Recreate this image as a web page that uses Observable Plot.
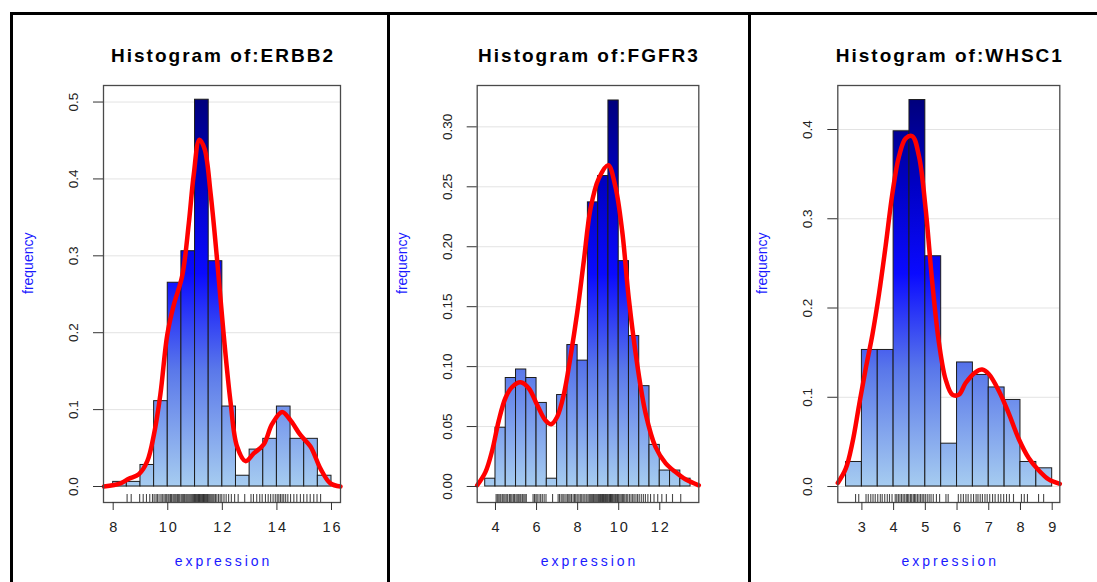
<!DOCTYPE html>
<html>
<head>
<meta charset="utf-8">
<script src="https://cdn.jsdelivr.net/npm/d3@7"></script>
<script src="https://cdn.jsdelivr.net/npm/@observablehq/plot@0.6"></script>
<style>
  html, body { margin: 0; padding: 0; background: #fff; }
  body { width: 1097px; height: 582px; overflow: hidden; position: relative; font-family: "Liberation Sans", Arial, sans-serif; }
  .panel { position: absolute; top: 0; }
  .bl { position: absolute; background: #000; z-index: 5; }
</style>
</head>
<body>
<div class="bl" style="left:10px;top:12px;width:1087px;height:3px"></div>
<div class="bl" style="left:10px;top:12px;width:3px;height:570px"></div>
<div class="bl" style="left:387px;top:12px;width:3px;height:570px"></div>
<div class="bl" style="left:748px;top:12px;width:3px;height:570px"></div>
<script>
// ---------------- ERBB2 ----------------
const erbb2Breaks = [8.0, 8.5, 9.0, 9.5, 10.0, 10.5, 11.0, 11.5, 12.0, 12.5, 13.0, 13.5, 14.0, 14.5, 15.0, 15.5, 16.0];
const erbb2Freq = [0.006, 0.006, 0.028, 0.111, 0.265, 0.306, 0.503, 0.293, 0.104, 0.014, 0.048, 0.062, 0.104, 0.062, 0.062, 0.014];
const erbb2DensX = [7.66, 8.27, 8.57, 8.94, 9.25, 9.49, 9.73, 9.98, 10.22, 10.53, 10.77, 10.95, 11.16, 11.35, 11.57, 11.81, 12.05, 12.3, 12.54, 12.85, 13.15, 13.52, 13.82, 14.19, 14.5, 14.86, 15.23, 15.6, 15.96, 16.33];
const erbb2DensY = [0.0, 0.004, 0.01, 0.016, 0.033, 0.067, 0.12, 0.197, 0.236, 0.274, 0.342, 0.405, 0.451, 0.439, 0.381, 0.294, 0.197, 0.11, 0.052, 0.033, 0.043, 0.055, 0.081, 0.097, 0.086, 0.067, 0.052, 0.023, 0.004, 0.0];
const erbb2Rug = [8.51, 8.66, 8.97, 9.1, 9.22, 9.34, 9.44, 9.5, 9.57, 9.62, 9.68, 9.75, 9.8, 9.86, 9.91, 9.96, 10.01, 10.05, 10.1, 10.14, 10.19, 10.23, 10.27, 10.31, 10.36, 10.4, 10.44, 10.49, 10.53, 10.57, 10.61, 10.66, 10.7, 10.74, 10.78, 10.82, 10.86, 10.9, 10.94, 10.98, 11.01, 11.04, 11.07, 11.1, 11.13, 11.16, 11.19, 11.22, 11.25, 11.28, 11.31, 11.34, 11.37, 11.4, 11.43, 11.46, 11.5, 11.54, 11.58, 11.62, 11.66, 11.7, 11.75, 11.8, 11.86, 11.92, 11.98, 12.06, 12.14, 12.23, 12.33, 12.45, 12.58, 12.82, 13.05, 13.14, 13.26, 13.37, 13.46, 13.58, 13.68, 13.77, 13.86, 13.94, 14.01, 14.07, 14.13, 14.19, 14.25, 14.32, 14.4, 14.5, 14.62, 14.73, 14.86, 14.98, 15.1, 15.22, 15.35, 15.47, 15.6];
const erbb2XTicks = [8, 10, 12, 14, 16];
const erbb2YTicks = [0, 0.1, 0.2, 0.3, 0.4, 0.5];
const erbb2YLabels = ["0.0", "0.1", "0.2", "0.3", "0.4", "0.5"];

// ---------------- FGFR3 ----------------
const fgfr3Breaks = [3.5, 4.0, 4.5, 5.0, 5.5, 6.0, 6.5, 7.0, 7.5, 8.0, 8.5, 9.0, 9.5, 10.0, 10.5, 11.0, 11.5, 12.0, 12.5, 13.0, 13.5];
const fgfr3Freq = [0.0065, 0.049, 0.0905, 0.0976, 0.0905, 0.0697, 0.0065, 0.0763, 0.118, 0.105, 0.237, 0.259, 0.322, 0.188, 0.1255, 0.0837, 0.0347, 0.0133, 0.0133, 0.0065];
const fgfr3DensX = [3.11, 3.51, 3.84, 4.16, 4.49, 4.81, 5.22, 5.62, 6.03, 6.44, 6.71, 7.0, 7.33, 7.65, 7.98, 8.3, 8.63, 9.03, 9.49, 9.84, 10.17, 10.49, 10.9, 11.31, 11.79, 12.28, 12.77, 13.25, 13.9];
const fgfr3DensY = [0.001, 0.012, 0.03, 0.055, 0.074, 0.083, 0.087, 0.082, 0.068, 0.055, 0.052, 0.058, 0.077, 0.108, 0.145, 0.188, 0.232, 0.257, 0.268, 0.25, 0.213, 0.157, 0.102, 0.061, 0.033, 0.0195, 0.012, 0.006, 0.001];
const fgfr3Rug = [4.03, 4.09, 4.16, 4.22, 4.27, 4.35, 4.41, 4.47, 4.55, 4.6, 4.68, 4.74, 4.8, 4.87, 4.93, 5.0, 5.06, 5.13, 5.19, 5.24, 5.31, 5.38, 5.44, 5.5, 5.83, 5.9, 5.97, 6.03, 6.12, 6.2, 6.28, 6.37, 6.46, 6.78, 7.05, 7.12, 7.2, 7.28, 7.34, 7.43, 7.5, 7.57, 7.63, 7.7, 7.78, 7.85, 7.91, 7.98, 8.06, 8.13, 8.2, 8.27, 8.35, 8.42, 8.5, 8.56, 8.61, 8.66, 8.71, 8.76, 8.8, 8.85, 8.9, 8.95, 9.0, 9.04, 9.08, 9.12, 9.17, 9.21, 9.26, 9.3, 9.35, 9.39, 9.43, 9.47, 9.52, 9.56, 9.6, 9.64, 9.68, 9.72, 9.77, 9.82, 9.86, 9.91, 9.95, 10.0, 10.06, 10.12, 10.18, 10.24, 10.3, 10.37, 10.44, 10.52, 10.6, 10.68, 10.75, 10.84, 10.92, 11.0, 11.1, 11.2, 11.3, 11.42, 11.55, 11.72, 11.9, 12.1, 12.32, 12.62, 13.02];
const fgfr3XTicks = [4, 6, 8, 10, 12];
const fgfr3YTicks = [0, 0.05, 0.1, 0.15, 0.2, 0.25, 0.3];
const fgfr3YLabels = ["0.00", "0.05", "0.10", "0.15", "0.20", "0.25", "0.30"];

// ---------------- WHSC1 ----------------
const whsc1Breaks = [2.5, 3.0, 3.5, 4.0, 4.5, 5.0, 5.5, 6.0, 6.5, 7.0, 7.5, 8.0, 8.5, 9.0];
const whsc1Freq = [0.0275, 0.153, 0.153, 0.398, 0.433, 0.258, 0.048, 0.139, 0.125, 0.111, 0.097, 0.0275, 0.0204];
const whsc1DensX = [2.24, 2.49, 2.7, 2.91, 3.12, 3.33, 3.54, 3.75, 3.96, 4.17, 4.38, 4.59, 4.8, 5.01, 5.22, 5.43, 5.64, 5.85, 6.06, 6.27, 6.58, 6.79, 7.0, 7.32, 7.63, 7.95, 8.26, 8.58, 8.89, 9.24];
const whsc1DensY = [0.004, 0.02, 0.049, 0.091, 0.132, 0.17, 0.216, 0.27, 0.328, 0.37, 0.39, 0.3925, 0.37, 0.311, 0.228, 0.161, 0.12, 0.103, 0.103, 0.116, 0.128, 0.131, 0.126, 0.107, 0.082, 0.053, 0.032, 0.018, 0.008, 0.003];
const whsc1Rug = [2.8, 2.9, 3.13, 3.2, 3.28, 3.35, 3.42, 3.5, 3.58, 3.64, 3.72, 3.8, 3.87, 3.95, 4.05, 4.1, 4.15, 4.2, 4.25, 4.3, 4.35, 4.4, 4.44, 4.48, 4.53, 4.57, 4.62, 4.66, 4.7, 4.75, 4.8, 4.85, 4.9, 4.95, 5.0, 5.06, 5.12, 5.18, 5.25, 5.35, 5.45, 5.65, 5.72, 6.04, 6.12, 6.2, 6.28, 6.35, 6.44, 6.52, 6.6, 6.66, 6.73, 6.8, 6.88, 6.95, 7.03, 7.12, 7.2, 7.3, 7.38, 7.47, 7.56, 7.65, 7.78, 8.03, 8.12, 8.22, 8.57, 8.73];
const whsc1XTicks = [3, 4, 5, 6, 7, 8, 9];
const whsc1YTicks = [0, 0.1, 0.2, 0.3, 0.4];
const whsc1YLabels = ["0.0", "0.1", "0.2", "0.3", "0.4"];

const panels = [
  { id: "erbb2", title: "Histogram of:ERBB2", breaks: erbb2Breaks, freq: erbb2Freq, densX: erbb2DensX, densY: erbb2DensY, rug: erbb2Rug,
    xTicks: erbb2XTicks, yTicks: erbb2YTicks, yLabels: erbb2YLabels,
    left: 13, width: 375, mL: 90, mR: 48, xDomain: [7.645, 16.33], yDomain: [-0.0208, 0.5215] },
  { id: "fgfr3", title: "Histogram of:FGFR3", breaks: fgfr3Breaks, freq: fgfr3Freq, densX: fgfr3DensX, densY: fgfr3DensY, rug: fgfr3Rug,
    xTicks: fgfr3XTicks, yTicks: fgfr3YTicks, yLabels: fgfr3YLabels,
    left: 391, width: 358, mL: 85.7, mR: 50.7, xDomain: [3.11, 13.9], yDomain: [-0.01335, 0.3345] },
  { id: "whsc1", title: "Histogram of:WHSC1", breaks: whsc1Breaks, freq: whsc1Freq, densX: whsc1DensX, densY: whsc1DensY, rug: whsc1Rug,
    xTicks: whsc1XTicks, yTicks: whsc1YTicks, yLabels: whsc1YLabels,
    left: 752, width: 345, mL: 85.3, mR: 37.7, xDomain: [2.24, 9.24], yDomain: [-0.0179, 0.4493] }
];

const gradStops = [[0, "#a6ccf0"], [0.3, "#5a78ea"], [0.55, "#0a0aff"], [0.78, "#0000c4"], [1, "#00007c"]];
const H = 582, mT = 85, mB = 80;
const FONT = "'Liberation Sans', Arial, Helvetica, sans-serif";

for (const p of panels) {
  const bins = p.freq.map((f, i) => ({ x1: p.breaks[i], x2: p.breaks[i + 1], f }));
  const dens = p.densX.map((x, i) => ({ x, y: p.densY[i] }));
  const maxF = d3.max(p.freq);
  const boxH = H - mT - mB;
  const gid = "grad-" + p.id;

  const svg = Plot.plot({
    width: p.width, height: H,
    marginLeft: p.mL, marginRight: p.mR, marginTop: mT, marginBottom: mB,
    style: { background: "transparent", overflow: "visible", fontFamily: FONT },
    x: { domain: p.xDomain },
    y: { domain: p.yDomain },
    marks: [
      Plot.gridY(p.yTicks, { stroke: "#e3e3e3", strokeOpacity: 1, strokeWidth: 1 }),
      Plot.rect(bins, { x1: "x1", x2: "x2", y1: 0, y2: "f", fill: `url(#${gid})`, stroke: "#1c1c1c", strokeWidth: 1 }),
      Plot.ruleX(p.rug, { x: d => d, stroke: "#000", strokeOpacity: 0.72, strokeWidth: 1.1, insetTop: boxH - 8 }),
      Plot.line(dens, { x: "x", y: "y", stroke: "#ff0000", strokeWidth: 4.5, curve: "catmull-rom" }),
      Plot.frame({ stroke: "#4a4a4a", strokeWidth: 1.3 }),
      Plot.axisY(p.yTicks, { tickSize: 10, tickFormat: () => "", label: null, stroke: "#333" }),
      Plot.axisX(p.xTicks, { tickSize: 8, tickFormat: () => "", label: null, stroke: "#333" }),
      Plot.text(p.yTicks, { x: p.xDomain[0], y: d => d, text: (d, i) => p.yLabels[i], rotate: -90, dx: -30, fontSize: 13.5, fill: "#222" }),
      Plot.text(p.xTicks, { x: d => d, frameAnchor: "bottom", dy: 29, dx: 1, text: d => String(d), fontSize: 14.5, fill: "#222" }),
      Plot.text([p.title], { frameAnchor: "top", dy: -37, dx: 1, text: d => d, fontSize: 19, fontWeight: "bold", fill: "#000" }),
      Plot.text(["expression"], { frameAnchor: "bottom", dy: 63, dx: 1.5, text: d => d, fontSize: 14, fill: "#1a1aff" }),
      Plot.text(["frequency"], { frameAnchor: "left", dx: -75, rotate: -90, text: d => d, fontSize: 14, fill: "#1a1aff" })
    ]
  });

  // letter spacing like the reference's wide raster text
  const xTickStr = new Set(p.xTicks.map(String));
  d3.select(svg).selectAll("text").each(function () {
    const t = this.textContent;
    if (t === p.title) this.style.letterSpacing = "2px";
    else if (t === "expression") this.style.letterSpacing = "3px";
    else if (xTickStr.has(t)) this.style.letterSpacing = "2px";
  });

  const ys = svg.scale("y");
  const defs = d3.select(svg).insert("defs", ":first-child");
  const lg = defs.append("linearGradient").attr("id", gid)
    .attr("gradientUnits", "userSpaceOnUse")
    .attr("x1", 0).attr("x2", 0)
    .attr("y1", ys.apply(0)).attr("y2", ys.apply(maxF));
  for (const [o, c] of gradStops) lg.append("stop").attr("offset", o).attr("stop-color", c);

  const wrap = document.createElement("div");
  wrap.className = "panel";
  wrap.style.left = p.left + "px";
  wrap.style.width = p.width + "px";
  wrap.appendChild(svg);
  document.body.appendChild(wrap);
}
</script>
</body>
</html>
